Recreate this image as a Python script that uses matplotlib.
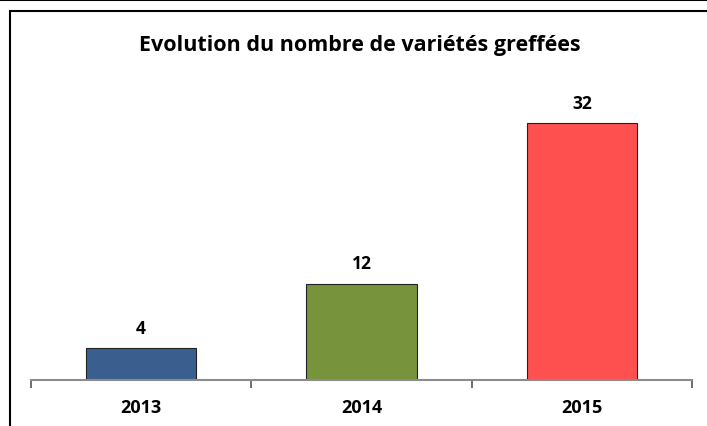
import matplotlib
matplotlib.use("Agg")
import matplotlib.pyplot as plt
from matplotlib.patches import Rectangle
from matplotlib.lines import Line2D

# données
annees = ["2013", "2014", "2015"]
varietes = [4, 12, 32]
couleurs = ["#3A5F8F", "#77933C", "#FF5050"]
titre = "Evolution du nombre de variétés greffées"

plt.rcParams['font.family'] = ['Open Sans', 'DejaVu Sans']

fig = plt.figure(figsize=(7.07, 4.27), dpi=100)
ax = fig.add_axes([31 / 707, 46 / 427, 661 / 707, 281 / 427])

x = range(len(annees))
ax.bar(x, varietes, width=0.5, color=couleurs, edgecolor="#222222", linewidth=0.8)
for xi, v in zip(x, varietes):
    ax.text(xi, v + 1.4, str(v), ha="center", va="bottom", fontsize=12.5, fontweight="bold")

ax.set_xlim(-0.5, 2.5)
ax.set_ylim(0, 35)
ax.set_yticks([])
ax.set_xticks([-0.5, 0.5, 1.5, 2.5], minor=False)
ax.set_xticklabels([])
ax.set_xticks(list(x), minor=True)
ax.set_xticklabels(annees, minor=True, fontsize=13, fontweight="bold")
ax.tick_params(axis="x", which="major", length=6, color="#555555", width=1.2)
ax.tick_params(axis="x", which="minor", length=0, pad=13)
for s in ["top", "right", "left"]:
    ax.spines[s].set_visible(False)
ax.spines["bottom"].set_color("#8C8C8C")
ax.spines["bottom"].set_linewidth(1.5)

fig.text(0.509, 1 - 46 / 427, titre, ha="center", va="center", fontsize=15.5, fontweight="bold")

# cadre
fig.add_artist(Line2D([0, 1], [1 - 1 / 427, 1 - 1 / 427], color="black", lw=1.5))
fig.add_artist(Rectangle((10 / 707, -0.1), 1.2, 1 - 12 / 427 + 0.1, fill=False,
                         edgecolor="black", lw=1.5, transform=fig.transFigure))

fig.savefig("out.png", dpi=100)
